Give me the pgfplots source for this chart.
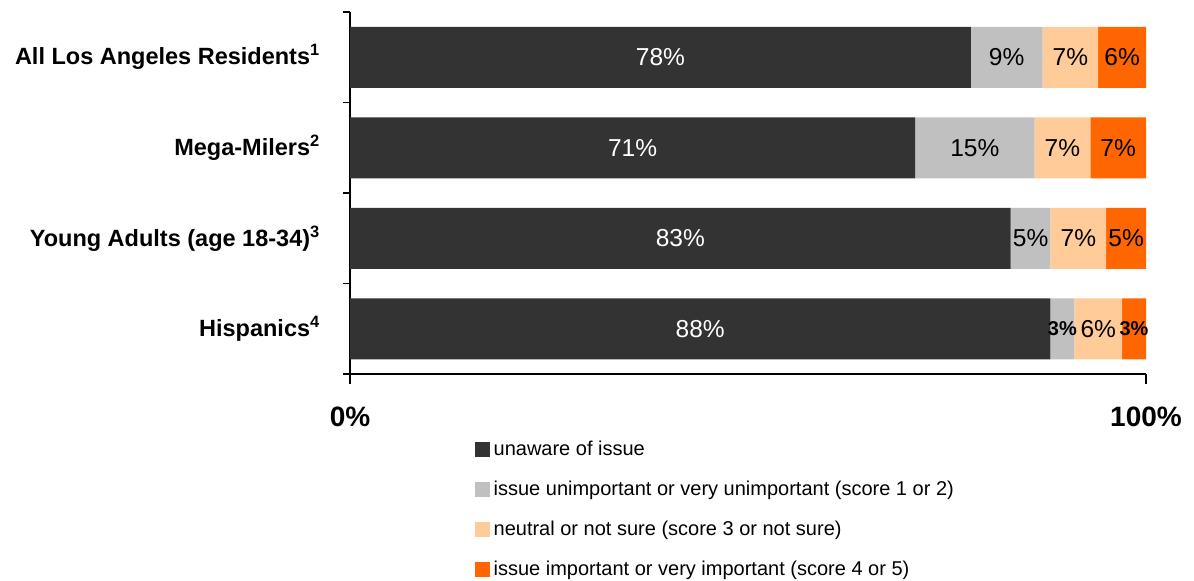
\documentclass[border=0pt]{standalone}
\usepackage{pgfplots}
\pgfplotsset{compat=1.18}
\usepackage{fontspec}
\setmainfont{Liberation Sans}
\definecolor{cA}{HTML}{333333}
\definecolor{cB}{HTML}{C0C0C0}
\definecolor{cC}{HTML}{FFCC99}
\definecolor{cD}{HTML}{FF6600}
\newcommand{\fs}[1]{\fontsize{#1bp}{#1bp}\selectfont}
\begin{document}
\begin{tikzpicture}
\begin{axis}[
  scale only axis, width=796bp, height=362bp,
  xbar stacked, bar width=61bp,
  xmin=0, xmax=100, ymin=-0.5, ymax=3.5,
  clip=false,
  /pgf/number format/assume math mode=true,
  axis x line*=bottom, axis y line*=left,
  axis line style={line width=1.6bp, black},
  tick style={line width=1.6bp, black},
  tick align=outside,
  major tick length=10bp, minor tick length=7bp,
  xtick={0,100}, xticklabels={0\%,100\%},
  xticklabel style={font=\bfseries\fs{28}, inner sep=0pt, yshift=-23bp},
  ytick={0,1,2,3},
  yticklabels={Hispanics\textsuperscript{4},Young Adults (age 18-34)\textsuperscript{3},Mega-Milers\textsuperscript{2},All Los Angeles Residents\textsuperscript{1}},
  yticklabel style={font=\bfseries\fs{23.5}, inner sep=0pt, xshift=-20bp},
  minor ytick={-0.5,0.5,1.5,2.5,3.5},
  major y tick style={draw=none},
  visualization depends on={rawy \as \rawy},
  every node near coord/.append style={anchor=center, font=\fs{24.5}, text=black, inner sep=0pt},
  legend style={at={(axis description cs:0.157,-0.185)}, anchor=north west, draw=none, fill=none, inner sep=0pt, font=\fs{20}, row sep=23bp, nodes={inner sep=0pt, text height=14bp, text depth=3bp}},
  legend cell align=left,
  legend image code/.code={\fill[#1] (0bp,-7.5bp) rectangle (15bp,7.5bp); \path (18.5bp,0bp);},
]
\addplot[fill=cA, draw=none, nodes near coords={\pgfmathprintnumber\pgfplotspointmeta\%}, every node near coord/.append style={text=white}] coordinates {(88,0) (83,1) (71,2) (78,3)};
\addplot[fill=cB, draw=none, nodes near coords={\ifdim\rawy pt<0.5pt\bfseries\fs{20}\fi\pgfmathprintnumber\pgfplotspointmeta\%}] coordinates {(3,0) (5,1) (15,2) (9,3)};
\addplot[fill=cC, draw=none, nodes near coords={\pgfmathprintnumber\pgfplotspointmeta\%}] coordinates {(6,0) (7,1) (7,2) (7,3)};
\addplot[fill=cD, draw=none, nodes near coords={\ifdim\rawy pt<0.5pt\bfseries\fs{20}\fi\pgfmathprintnumber\pgfplotspointmeta\%}] coordinates {(3,0) (5,1) (7,2) (6,3)};
\legend{unaware of issue, issue unimportant or very unimportant (score 1 or 2), neutral or not sure (score 3 or not sure), issue important or very important (score 4 or 5)}
\end{axis}
\pgfresetboundingbox
\path ([shift={(-350bp,-207bp)}]current axis.south west) rectangle ([shift={(48bp,12bp)}]current axis.north east);
\end{tikzpicture}
\end{document}
